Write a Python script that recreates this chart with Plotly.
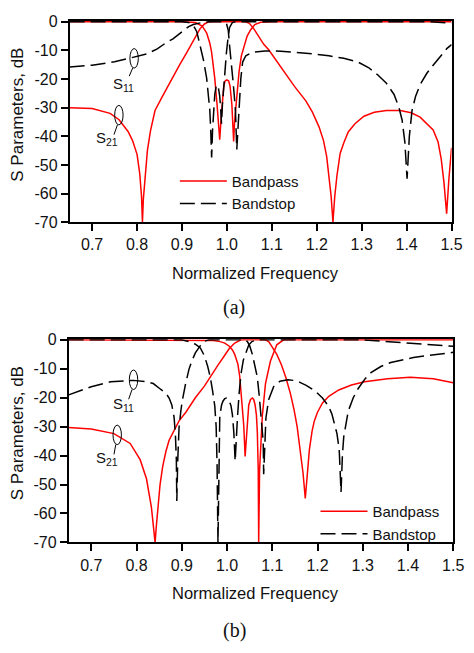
import plotly.graph_objects as go

W, H = 474, 653

# ---------------- Panel (a) data ----------------
A_BP_S21_F = [0.65, 0.70, 0.74, 0.76, 0.78, 0.79, 0.80, 0.806, 0.810, 0.812, 0.814, 0.818, 0.823, 0.830, 0.840,
              0.855, 0.870, 0.885, 0.895, 0.910, 0.920, 0.930, 0.940, 0.950, 0.960, 1.040, 1.050, 1.060, 1.071,
              1.082, 1.093, 1.105, 1.125, 1.150, 1.176, 1.190, 1.205, 1.215, 1.222, 1.227, 1.232, 1.236, 1.240,
              1.245, 1.252, 1.260, 1.270, 1.285, 1.305, 1.328, 1.355, 1.386, 1.410, 1.430, 1.445, 1.459, 1.470,
              1.477, 1.483, 1.489, 1.494, 1.500]
A_BP_S21_DB = [-30.0, -30.3, -32.0, -34.2, -38.3, -41.5, -46.3, -53, -61, -70, -62, -53, -45, -38, -31,
               -26.5, -22, -17.5, -15, -11, -8.3, -5.5, -2.5, -0.8, 0, 0, -0.6, -2.5, -5.1,
               -7.9, -9.8, -12.5, -17, -22.5, -27.7, -31.5, -36.7, -41.5, -47, -53.6, -61, -70, -61,
               -53.6, -46, -42.3, -38.5, -35.6, -33, -31.6, -31, -31, -31.8, -33.3, -35.5, -37.8, -42,
               -48, -56, -67, -55, -44]

A_BP_S11_F = [0.65, 0.90, 0.93, 0.945, 0.955, 0.962, 0.966, 0.970, 0.973, 0.978, 0.981, 0.984, 0.987, 0.990,
              0.993, 0.996, 1.000, 1.004, 1.007, 1.011, 1.013, 1.015, 1.017, 1.020, 1.024, 1.027, 1.032, 1.038,
              1.045, 1.053, 1.062, 1.075, 1.100, 1.500]
A_BP_S11_DB = [0, 0, -0.3, -1.5, -4, -7.5, -10.7, -15, -19.8, -28.8, -34.5, -41.2, -34, -28.8,
               -22.5, -20.7, -20.3, -20.7, -22.5, -28.8, -34.5, -41.8, -35, -28.8, -22, -17.5, -12, -8.5,
               -5, -2.8, -1, -0.2, 0, 0]

A_BS_S11_F = [0.65, 0.70, 0.75, 0.793, 0.821, 0.845, 0.865, 0.880, 0.893, 0.905, 0.915, 0.925, 0.937, 0.950,
              0.970, 0.993, 0.999, 1.003, 1.006, 1.010, 1.013, 1.016, 1.019, 1.022, 1.025, 1.027, 1.031, 1.035,
              1.042, 1.057, 1.085, 1.120, 1.154, 1.190, 1.227, 1.260, 1.292, 1.315, 1.336, 1.355, 1.372, 1.383,
              1.390, 1.396, 1.401, 1.406, 1.412, 1.420, 1.430, 1.445, 1.459, 1.475, 1.490, 1.500]
A_BS_S11_DB = [-15.8, -15.2, -14.0, -12.4, -11.3, -9.5, -7.3, -6.0, -4.5, -2.8, -1.7, -1.0, -0.5, -0.1,
               0, 0, -0.6, -3, -8.5, -14, -19.8, -25, -31, -44.6, -36, -31, -19.8, -14.1,
               -11.9, -10.7, -10.2, -10.3, -10.7, -11.2, -11.9, -12.8, -14.1, -16, -18.6, -21.5, -25.4, -30,
               -34.4, -42, -54.8, -40, -31, -26, -22, -18, -15.2, -12, -9.3, -8]

A_BS_S21_F = [0.65, 0.90, 0.915, 0.925, 0.933, 0.941, 0.948, 0.955, 0.959, 0.962, 0.964, 0.966, 0.968, 0.970,
              0.973, 0.976, 0.978, 0.981, 0.984, 0.986, 0.988, 0.990, 0.992, 0.995, 0.999, 1.003, 1.006, 1.012,
              1.020, 1.450, 1.500]
A_BS_S21_DB = [0, 0, -0.3, -1.2, -3.5, -8.5, -13.5, -19.8, -25.5, -31, -38, -47.4, -38, -31,
               -25.4, -22.5, -22, -23, -26, -30, -35.6, -29, -24, -17, -10.7, -5, -2, -0.3,
               0, 0, -0.5]

# ---------------- Panel (b) data ----------------
B_BP_S21_F = [0.65, 0.70, 0.75, 0.786, 0.808, 0.822, 0.833, 0.838, 0.841, 0.844, 0.847, 0.852, 0.858, 0.865,
              0.872, 0.887, 0.894, 0.909, 0.930, 0.950, 0.966, 0.980, 0.995, 1.005, 1.017, 1.031, 1.085, 1.092,
              1.100, 1.110, 1.120, 1.130, 1.140, 1.148, 1.155, 1.162, 1.168, 1.173, 1.177, 1.182, 1.188, 1.193,
              1.200, 1.211, 1.225, 1.247, 1.275, 1.304, 1.355, 1.405, 1.456, 1.500]
B_BP_S21_DB = [-30.3, -30.8, -32.4, -35.8, -41.4, -48, -58, -65, -70, -64, -58, -50, -43.6, -38.5,
               -34.7, -30, -28, -25, -20, -16, -12, -8.7, -5.3, -3, -1.1, 0, 0, -0.6,
               -2.5, -5, -8.5, -13, -18.5, -24, -30, -38, -46, -54.8, -46, -38, -31.5, -28,
               -25, -21.8, -19.5, -17.3, -15.6, -14.5, -13.4, -12.9, -13.4, -14.8]

B_BP_S11_F = [0.65, 0.95, 0.97, 0.985, 0.995, 1.005, 1.012, 1.017, 1.024, 1.028, 1.031, 1.034, 1.037, 1.040,
              1.043, 1.045, 1.048, 1.052, 1.056, 1.059, 1.062, 1.065, 1.067, 1.069, 1.070, 1.072, 1.075, 1.078,
              1.085, 1.096, 1.110, 1.125, 1.500]
B_BP_S11_DB = [0, 0, -0.2, -0.6, -1.1, -2.2, -3.5, -5, -8.4, -12.5, -18.4, -24, -29.6, -40.3,
               -32, -26.3, -22.5, -20.6, -20.1, -20.6, -22.4, -26, -31.9, -45, -70, -45, -33, -26.3,
               -15.1, -7.3, -1.7, 0, 0]

B_BS_S11_F = [0.65, 0.70, 0.743, 0.793, 0.822, 0.837, 0.851, 0.865, 0.872, 0.878, 0.883, 0.886, 0.888, 0.889,
              0.891, 0.894, 0.898, 0.901, 0.908, 0.916, 0.923, 0.930, 0.941, 0.950, 0.960, 1.040, 1.045, 1.050,
              1.056, 1.063, 1.067, 1.071, 1.075, 1.078, 1.080, 1.081, 1.083, 1.086, 1.092, 1.103, 1.117, 1.135,
              1.146, 1.160, 1.175, 1.195, 1.211, 1.224, 1.232, 1.243, 1.248, 1.252, 1.255, 1.258, 1.268, 1.279,
              1.290, 1.305, 1.319, 1.340, 1.362, 1.390, 1.412, 1.440, 1.463, 1.500]
B_BS_S11_DB = [-19, -16.2, -14.5, -14, -14.5, -15.1, -16.8, -18.5, -20.1, -22.5, -26.8, -33, -41.4, -55.7,
               -42, -30.2, -24.5, -21.2, -15.5, -10.1, -7, -4.5, -2, -0.5, 0, 0, -0.6, -2,
               -5, -9.5, -12.9, -19, -26.3, -31, -35.2, -46.4, -36, -27, -20.7, -16.2, -14.3, -13.8,
               -14, -14.6, -15.7, -17.7, -20.1, -22.8, -25.7, -32.4, -38, -52.6, -40, -33.5, -24.6, -20,
               -16.8, -13.5, -11.2, -9.2, -7.8, -6.8, -6.1, -5.5, -5, -4.3]

B_BS_S21_F = [0.65, 0.90, 0.916, 0.930, 0.941, 0.950, 0.957, 0.963, 0.968, 0.973, 0.976, 0.978, 0.980, 0.982,
              0.984, 0.988, 0.991, 0.995, 0.999, 1.004, 1.009, 1.012, 1.015, 1.018, 1.021, 1.023, 1.027, 1.031,
              1.036, 1.042, 1.048, 1.055, 1.065, 1.300, 1.350, 1.400, 1.450, 1.500]
B_BS_S21_DB = [0, 0, -0.6, -1.5, -2.8, -5.5, -9, -12.9, -17.5, -22.9, -30, -43, -70, -40,
               -26.3, -22.5, -21.2, -20.3, -20.1, -20.6, -22.9, -26, -31.9, -41.9, -31, -27, -18, -11.7,
               -7, -4, -1.8, -0.6, 0, 0, -0.6, -1.1, -1.7, -2.2]

# ---------------- Ticks ----------------
X_TICK_VALS = [0.7, 0.8, 0.9, 1.0, 1.1, 1.2, 1.3, 1.4, 1.5]
X_TICK_TEXT = ["0.7", "0.8", "0.9", "1.0", "1.1", "1.2", "1.3", "1.4", "1.5"]
Y_TICK_VALS = [0, -10, -20, -30, -40, -50, -60, -70]
Y_TICK_TEXT = ["0", "-10", "-20", "-30", "-40", "-50", "-60", "-70"]

RED = "#ff0000"
BLACK = "#000000"
TXT = "#111111"
FONT = "Liberation Sans, Arial, sans-serif"


def px(x):
    return x / W


def py(y):
    return 1 - y / H


fig = go.Figure()

panels = [
    ("x", "y", "legend", A_BP_S21_F, A_BP_S21_DB, A_BP_S11_F, A_BP_S11_DB,
     A_BS_S11_F, A_BS_S11_DB, A_BS_S21_F, A_BS_S21_DB),
    ("x2", "y2", "legend2", B_BP_S21_F, B_BP_S21_DB, B_BP_S11_F, B_BP_S11_DB,
     B_BS_S11_F, B_BS_S11_DB, B_BS_S21_F, B_BS_S21_DB),
]

for (xa, ya, lg, bp21f, bp21d, bp11f, bp11d, bs11f, bs11d, bs21f, bs21d) in panels:
    red = dict(color=RED, width=1.5)
    blk = dict(color=BLACK, width=1.5, dash="15px,6px")
    fig.add_trace(go.Scatter(x=bp21f, y=bp21d, mode="lines", line=red, name="Bandpass",
                             xaxis=xa, yaxis=ya, legend=lg, showlegend=True))
    fig.add_trace(go.Scatter(x=bp11f, y=bp11d, mode="lines", line=red, name="Bandpass",
                             xaxis=xa, yaxis=ya, legend=lg, showlegend=False))
    fig.add_trace(go.Scatter(x=bs11f, y=bs11d, mode="lines", line=blk, name="Bandstop",
                             xaxis=xa, yaxis=ya, legend=lg, showlegend=True))
    fig.add_trace(go.Scatter(x=bs21f, y=bs21d, mode="lines", line=blk, name="Bandstop",
                             xaxis=xa, yaxis=ya, legend=lg, showlegend=False))

axis_common = dict(
    showgrid=False, zeroline=False, showline=True, linecolor=BLACK, linewidth=1.8,
    mirror=True, ticks="outside", ticklen=7, tickwidth=1.5, tickcolor=BLACK,
    tickfont=dict(family=FONT, size=16, color=TXT),
)

legend_common = dict(xanchor="left", yanchor="top", bgcolor="rgba(0,0,0,0)",
                     font=dict(family=FONT, size=15, color=TXT), traceorder="normal",
                     itemwidth=47, tracegroupgap=0)

fig.update_layout(
    width=W, height=H,
    margin=dict(l=0, r=0, t=0, b=0),
    paper_bgcolor="white", plot_bgcolor="white",
    showlegend=True,
    xaxis=dict(domain=[px(71.3), px(462.3)], range=[0.65, 1.5], anchor="y",
               tickvals=X_TICK_VALS, ticktext=X_TICK_TEXT, **axis_common),
    yaxis=dict(domain=[py(220), py(13.3)], range=[-70, 0.25], anchor="x",
               tickvals=Y_TICK_VALS, ticktext=Y_TICK_TEXT, **axis_common),
    xaxis2=dict(domain=[px(70.3), px(464)], range=[0.65, 1.5], anchor="y2",
                tickvals=X_TICK_VALS, ticktext=X_TICK_TEXT, **axis_common),
    yaxis2=dict(domain=[py(548.7), py(340)], range=[-70, 0.25], anchor="x2",
                tickvals=Y_TICK_VALS, ticktext=Y_TICK_TEXT, **axis_common),
    legend=dict(x=px(179), y=py(161), **legend_common),
    legend2=dict(x=px(323), y=py(500), **legend_common),
)

annotations = []
shapes = []
for (ytitle_c, xtitle_c, lab_y, lab) in [(110, 272, 307.5, "(a)"), (437, 601, 639, "(b)")]:
    annotations.append(dict(text="S Parameters, dB", x=px(18), y=py(ytitle_c), xref="paper", yref="paper",
                            xanchor="center", yanchor="middle",
                            showarrow=False, textangle=-90, font=dict(family=FONT, size=17, color=TXT)))
    annotations.append(dict(text="Normalized Frequency", x=px(261.5), y=py(xtitle_c), xref="paper", yref="paper",
                            xanchor="center", yanchor="middle",
                            showarrow=False, font=dict(family=FONT, size=16.5, color=TXT)))
    annotations.append(dict(text=lab, x=px(240), y=py(lab_y), xref="paper", yref="paper",
                            xanchor="center", yanchor="middle",
                            showarrow=False, font=dict(family="Liberation Serif, Times New Roman, serif",
                                                       size=20, color=TXT)))

# S-parameter callouts: (ellipse centre, leader end, label centre, label)
callouts = [
    ((137.3, 51.7), (132.3, 70), (126.5, 79), "S<sub>11</sub>"),
    ((121.7, 110), (116.7, 130), (110, 134), "S<sub>21</sub>"),
    ((136.7, 381.7), (131.7, 401.7), (126, 407), "S<sub>11</sub>"),
    ((120, 438.3), (116.7, 458.3), (110, 463), "S<sub>21</sub>"),
]
for (cx, cy), (lx, ly), (tx, ty), txt in callouts:
    shapes.append(dict(type="circle", xref="paper", yref="paper",
                       x0=px(cx - 4.3), x1=px(cx + 4.3), y0=py(cy + 10), y1=py(cy - 10),
                       line=dict(color=BLACK, width=1)))
    shapes.append(dict(type="line", xref="paper", yref="paper",
                       x0=px(cx - 1.5), y0=py(cy + 10), x1=px(lx), y1=py(ly),
                       line=dict(color=BLACK, width=1)))
    annotations.append(dict(text=txt, x=px(tx), y=py(ty), xref="paper", yref="paper", showarrow=False,
                            xanchor="center", yanchor="middle",
                            font=dict(family=FONT, size=15, color=TXT)))

fig.update_layout(annotations=annotations, shapes=shapes)

fig.write_html("out.html", config={"displayModeBar": False},
               post_script="document.body.style.margin='0';")
